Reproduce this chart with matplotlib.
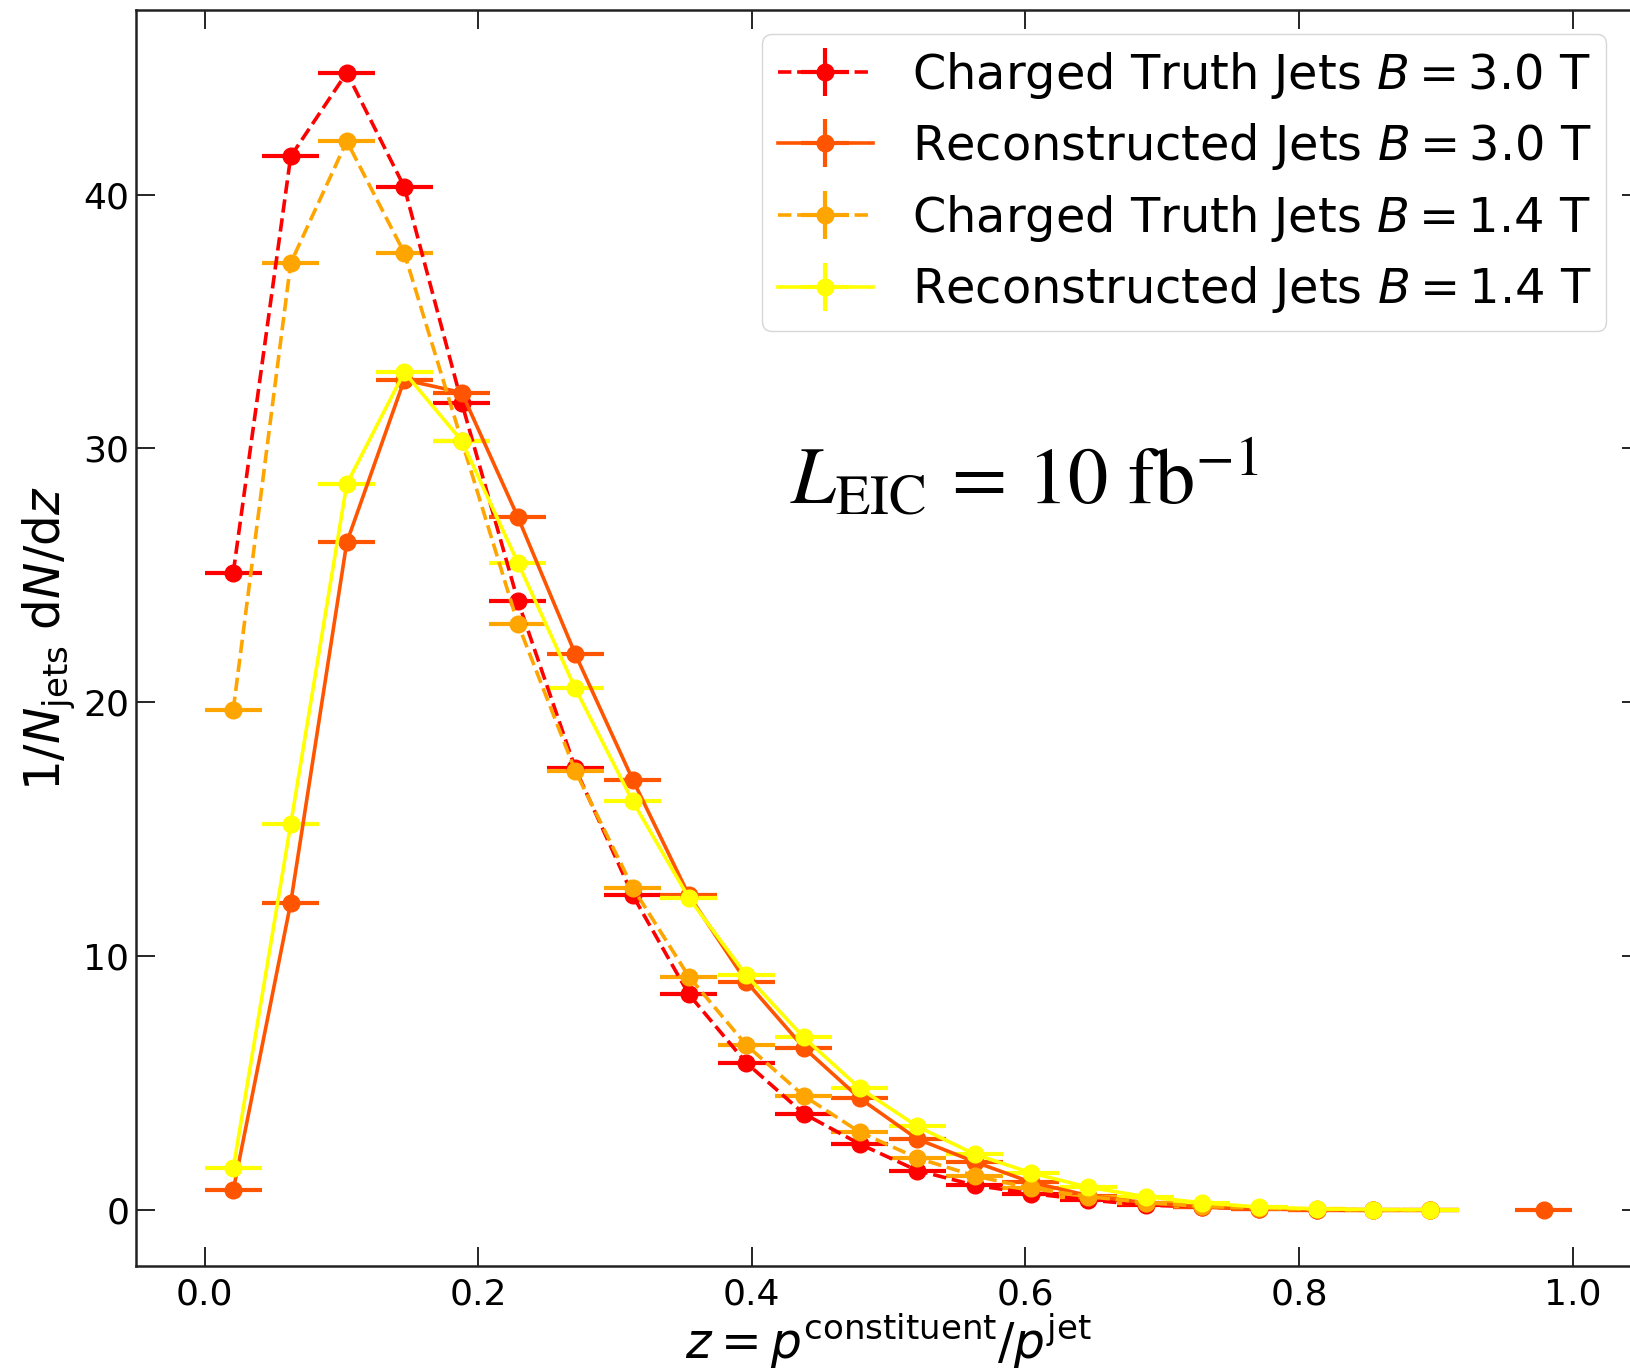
# fragmentation function z = p_const / p_jet for two field settings
import numpy as np
import matplotlib.pyplot as plt

# bin centres (24 bins over 0..1) and half bin width
z_centres = [0.021, 0.063, 0.104, 0.146, 0.188, 0.229, 0.271, 0.313,
             0.354, 0.396, 0.438, 0.479, 0.521, 0.563, 0.604, 0.646,
             0.688, 0.729, 0.771, 0.813, 0.854, 0.896, 0.938, 0.979]
half_bin = 0.0208

nan = np.nan
# charged truth jets, B = 3.0 T
truth_30 = [25.1, 41.5, 44.8, 40.3, 31.8, 24.0, 17.4, 12.4,
            8.5, 5.8, 3.8, 2.6, 1.56, 0.98, 0.65, 0.40,
            0.20, 0.12, 0.05, 0.02, 0.01, 0.0, nan, nan]
# reconstructed jets, B = 3.0 T
reco_30 = [0.78, 12.1, 26.3, 32.7, 32.2, 27.3, 21.9, 16.95,
           12.4, 9.0, 6.4, 4.4, 2.8, 1.9, 1.1, 0.57,
           0.29, 0.12, 0.05, 0.02, 0.01, 0.0, nan, 0.0]
# charged truth jets, B = 1.4 T
truth_14 = [19.7, 37.3, 42.1, 37.7, 30.3, 23.1, 17.3, 12.7,
            9.2, 6.5, 4.5, 3.07, 2.05, 1.35, 0.86, 0.53,
            0.30, 0.15, 0.07, 0.03, 0.01, 0.0, nan, nan]
# reconstructed jets, B = 1.4 T
reco_14 = [1.64, 15.2, 28.6, 33.0, 30.3, 25.5, 20.55, 16.1,
           12.3, 9.25, 6.8, 4.8, 3.3, 2.2, 1.47, 0.9,
           0.53, 0.29, 0.12, 0.05, 0.02, 0.01, nan, nan]

labels = ['Charged Truth Jets $B = 3.0$ T',
          'Reconstructed Jets $B = 3.0$ T',
          'Charged Truth Jets $B = 1.4$ T',
          'Reconstructed Jets $B = 1.4$ T']
colors = ['#ff0000', '#ff5500', '#ffa500', '#ffff00']
styles = ['--', '-', '--', '-']
series = [truth_30, reco_30, truth_14, reco_14]

fig = plt.figure(figsize=(16.3, 13.71), dpi=100)
ax = fig.add_axes([0.0835, 0.0766, 0.9233, 0.9158])

for vals, lab, c, ls in zip(series, labels, colors, styles):
    ax.errorbar(z_centres, vals, xerr=half_bin, yerr=0.0, fmt='o', ls=ls,
                color=c, lw=2.6, elinewidth=3, markersize=12, label=lab)

ax.set_xlim(-0.05, 1.05)
ax.set_ylim(-2.2, 47.25)
ax.set_xticks([0.0, 0.2, 0.4, 0.6, 0.8, 1.0])
ax.set_yticks([0, 10, 20, 30, 40])

ax.tick_params(direction='in', top=True, right=True, length=14, width=1.2,
               labelsize=26)
ax.tick_params(axis='x', pad=8)
ax.tick_params(axis='y', pad=5)
for sp in ax.spines.values():
    sp.set_linewidth(1.8)
    sp.set_color('#222222')

ax.set_xlabel(r'$z = p^{\rm constituent}/p^{\rm jet}$', fontsize=35, labelpad=0)
ax.set_ylabel(r'$1/N_{\rm jets}$ d$N$/d$z$', fontsize=35, labelpad=4)

ax.text(0.428, 27.8, r'$L_{\rm EIC}\,=\,10\ {\rm fb}^{-1}$', fontsize=58,
        math_fontfamily='stix')

ax.legend(loc='upper left', bbox_to_anchor=(0.416, 0.981), borderaxespad=0,
          fontsize=34.5, labelspacing=0.43, borderpad=0.32, handlelength=2.0)

fig.savefig('out.png', dpi=100)
